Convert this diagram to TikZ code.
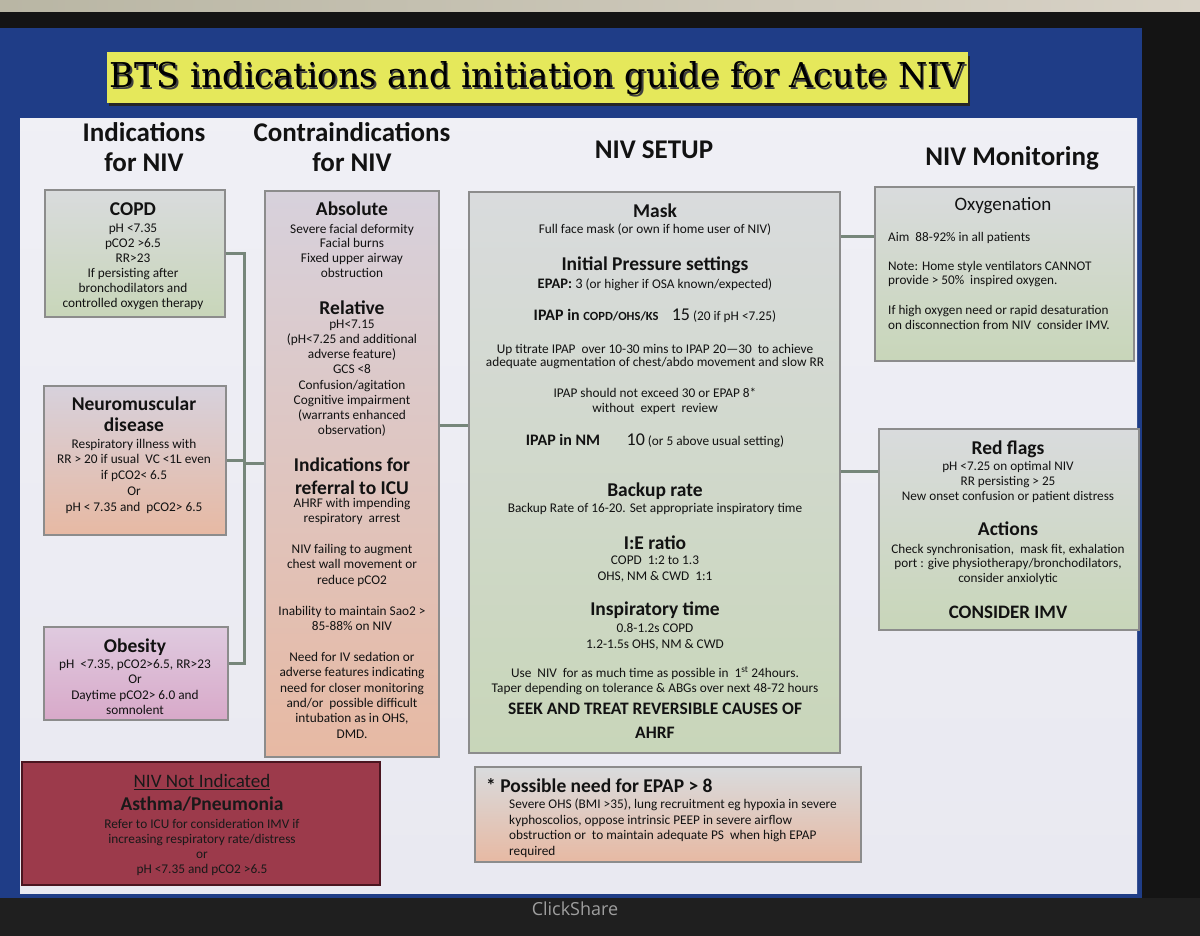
\documentclass[tikz,border=0pt]{standalone}
\usepackage{fontspec}
\usepackage{graphicx}
\setmainfont{Carlito}
\newfontfamily\titlefont{DejaVu Serif}
\newfontfamily\logofont{Open Sans}
\usetikzlibrary{calc}
\definecolor{slideblue}{HTML}{1F3D87}
\definecolor{panelc}{HTML}{E9E9F1}
\definecolor{ink}{HTML}{121212}
\definecolor{boxborder}{HTML}{8C8C8C}
\definecolor{conncol}{HTML}{76867A}
\definecolor{titleyellow}{HTML}{E5E85B}
\definecolor{greytop}{HTML}{D9DBDD}
\definecolor{greenbot}{HTML}{C8D6B9}
\definecolor{lavtop}{HTML}{D7D1DC}
\definecolor{peachbot}{HTML}{E7B9A3}
\definecolor{pinktop}{HTML}{DFCADF}
\definecolor{pinkbot}{HTML}{D8A9C9}
\definecolor{maroonc}{HTML}{9C3A4B}
\definecolor{maroonb}{HTML}{4A1520}
\definecolor{curtainA}{HTML}{B9B6A4}
\definecolor{curtainB}{HTML}{D8D2C6}
\newcommand\fBody{\fontsize{13.3}{15.3}\selectfont}
\newcommand\fHead{\fontsize{19.5}{22}\selectfont\bfseries}
\newcommand\fCol{\fontsize{27}{30}\selectfont\bfseries}
\begin{document}
\begin{tikzpicture}[x=1pt,y=-1pt,
  box/.style={draw=boxborder, line width=1.2pt, rectangle, inner sep=0pt},
  txt/.style={align=center, text=ink, inner sep=0pt, anchor=mid, yshift=-3pt},
  hd/.style={txt, yshift=-2pt},
  col/.style={txt, yshift=-3.5pt},
  ltxt/.style={align=left, text=ink, inner sep=0pt, anchor=mid west, yshift=-3pt},
  conn/.style={draw=conncol, line width=3pt}]
\useasboundingbox (0,0) rectangle (1200,936);
% background: room, monitor, slide
\fill[left color=curtainA, right color=curtainB] (0,0) rectangle (1200,14);
\fill[black!92] (0,12) rectangle (1200,30);
\fill[black!92] (1140,12) rectangle (1200,936);
\fill[slideblue] (0,28) rectangle (1142,898);
\fill[black!88] (0,898) rectangle (1200,936);
\fill[top color=panelc!70!white, bottom color=panelc] (20,119) rectangle (1137,893);
% title
\fill[black!85] (109,56) rectangle (970,106);
\node[fill=titleyellow, inner sep=0pt, minimum width=861pt, minimum height=51pt] (titlebar) at (537.5,77.5) {};
\node[anchor=base, inner sep=0pt, text=black!75] (titleshadow) at (539,89.5)
  {\resizebox{855pt}{26pt}{\titlefont BTS indications and initiation guide for Acute NIV}};
\node[anchor=base, inner sep=0pt, text=black] (title) at (537.5,88)
  {\resizebox{855pt}{26pt}{\titlefont BTS indications and initiation guide for Acute NIV}};
% column headers (multi-line nodes: mid anchor sits on the last line)
\node[col, font=\fCol] (hInd) at (144,163) {Indications\\for NIV};
\node[col, font=\fCol] (hContra) at (352,163) {Contraindications\\for NIV};
\node[col, font=\fCol] (hSetup) at (654,150) {NIV SETUP};
\node[col, font=\fCol] (hMon) at (1012,157) {NIV Monitoring};
% boxes
\node[box, top color=greytop, bottom color=greenbot, minimum width=180pt, minimum height=127pt] (copd) at (135,253.5) {};
\node[box, top color=lavtop, bottom color=peachbot, minimum width=182pt, minimum height=149pt] (nm) at (135,460.5) {};
\node[box, top color=pinktop, bottom color=pinkbot, minimum width=184pt, minimum height=93pt] (obes) at (136,673.5) {};
\node[box, draw=maroonb, line width=1.6pt, fill=maroonc, minimum width=358pt, minimum height=123pt] (notind) at (201,823.5) {};
\node[box, top color=lavtop, bottom color=peachbot, minimum width=174pt, minimum height=566pt] (contra) at (352,474) {};
\node[box, top color=greytop, bottom color=greenbot, minimum width=371pt, minimum height=561pt] (setup) at (654.5,472.5) {};
\node[box, top color=greytop, bottom color=peachbot, minimum width=386pt, minimum height=95pt] (epap) at (668,814.5) {};
\node[box, top color=greytop, bottom color=greenbot, minimum width=259pt, minimum height=174pt] (oxy) at (1004.5,274) {};
\node[box, top color=greytop, bottom color=greenbot, minimum width=260pt, minimum height=201pt] (red) at (1009,529.5) {};
% connectors
\coordinate (bus) at (244,463);
\coordinate (csY) at (455,425);
\coordinate (soY) at (860,237);
\coordinate (srY) at (860,471);
\draw[conn] (copd.east) -| (bus);
\draw[conn] (bus) |- ([yshift=10.5pt]obes.east);
\draw[conn] (nm.east) -- (nm.east -| bus);
\draw[conn] (bus) -- (contra.west |- bus);
\draw[conn] (contra.east |- csY) -- (setup.west |- csY);
\draw[conn] (setup.east |- soY) -- (oxy.west |- soY);
\draw[conn] (setup.east |- srY) -- (red.west |- srY);
% COPD
\node[hd, font=\fHead] (copdH) at (133,208) {COPD};
\node[txt, font={\fontsize{13.3}{15}\selectfont}] (copdB) at (133,302) {pH <7.35\\pCO2 >6.5\\RR>23\\If persisting after\\bronchodilators and\\controlled oxygen therapy};
% Neuromuscular
\node[hd, font={\fontsize{19.5}{21}\selectfont\bfseries}] (nmH) at (134,424) {Neuromuscular\\disease};
\node[txt, font={\fontsize{13.3}{15.8}\selectfont}] (nmB) at (134,506) {Respiratory illness with\\RR > 20 if usual\ \ VC <1L even\\if pCO2< 6.5\\Or\\pH <\ 7.35 and\ \ pCO2> 6.5};
% Obesity
\node[hd, font=\fHead] (obH) at (135,645) {Obesity};
\node[txt, font={\fontsize{13.3}{15.3}\selectfont}] (obB) at (135,709) {pH\ \ <7.35, pCO2>6.5, RR>23\\Or\\Daytime pCO2> 6.0 and\\somnolent};
% NIV not indicated
\node[hd, font={\fontsize{19}{22}\selectfont}, text=black!90] (niH) at (202,780) {\underline{NIV Not Indicated}};
\node[hd, font=\fHead, text=black!90] (niH2) at (202,803) {Asthma/Pneumonia};
\node[txt, font={\fontsize{13.3}{15}\selectfont}, text=black!90] (niB) at (202,868) {Refer to ICU for consideration IMV if\\increasing respiratory rate/distress\\or\\pH <7.35 and pCO2 >6.5};
% Contraindications
\node[hd, font=\fHead] (abH) at (352,208) {Absolute};
\node[txt, font={\fontsize{13.3}{14.7}\selectfont}] (abB) at (352,272) {Severe facial deformity\\Facial burns\\Fixed upper airway\\obstruction};
\node[hd, font=\fHead] (relH) at (352,307) {Relative};
\node[txt, font={\fontsize{13.3}{15.1}\selectfont}] (relB) at (352,429) {pH<7.15\\(pH<7.25 and additional\\adverse feature)\\GCS <8\\Confusion/agitation\\Cognitive impairment\\(warrants enhanced\\observation)};
\node[hd, font={\fontsize{19.5}{23}\selectfont\bfseries}] (icuH) at (352,487) {Indications for\\referral to ICU};
\node[txt, font={\fontsize{13.3}{15.4}\selectfont}] (icuB) at (352,733) {AHRF with impending\\respiratory\ \ arrest\\[15.4pt]NIV failing to augment\\chest wall movement or\\reduce pCO2\\[15.4pt]Inability to maintain Sao2 >\\85-88\% on NIV\\[15.4pt]Need for IV sedation or\\adverse features indicating\\need for closer monitoring\\and/or\ \ possible difficult\\intubation as in OHS,\\DMD.};
% NIV setup
\node[hd, font=\fHead] (maskH) at (655,210) {Mask};
\node[txt, font=\fBody] (maskB) at (655,228) {Full face mask (or own if home user of NIV)};
\node[hd, font=\fHead] (ipsH) at (655,263) {Initial Pressure settings};
\node[txt, font=\fBody] (epapL) at (655,283) {{\fontsize{14.5}{16}\selectfont\bfseries EPAP: }{\fontsize{14.5}{16}\selectfont 3} (or higher if OSA known/expected)};
\node[txt, font=\fBody] (ipapL) at (655,315) {{\fontsize{16}{17}\selectfont\bfseries IPAP in }{\fontsize{12.5}{14}\selectfont\bfseries COPD/OHS/KS}\quad{\fontsize{18}{18}\selectfont 15} (20 if pH <7.25)};
\node[txt, font={\fontsize{13.3}{13}\selectfont}] (titrB) at (655,361) {Up titrate IPAP\ \ over 10-30 mins to IPAP 20---30\ \ to achieve\\adequate augmentation of\ chest/abdo movement and slow RR};
\node[txt, font={\fontsize{13.3}{15}\selectfont}] (exceedB) at (655,407) {IPAP should not exceed 30 or EPAP 8*\\without\ \ expert\ \ review};
\node[txt, font=\fBody] (nmL) at (655,440) {{\fontsize{16}{17}\selectfont\bfseries IPAP in NM}\qquad{\fontsize{18}{18}\selectfont 10} (or 5 above usual setting)};
\node[hd, font=\fHead] (buH) at (655,489) {Backup rate};
\node[txt, font=\fBody] (buB) at (655,507) {Backup Rate of 16-20. Set appropriate inspiratory time};
\node[hd, font=\fHead] (ieH) at (655,542) {I:E ratio};
\node[txt, font={\fontsize{13.3}{16}\selectfont}] (ieB) at (655,575) {COPD\ \ 1:2 to 1.3\\OHS, NM \& CWD\ \ 1:1};
\node[hd, font=\fHead] (itH) at (655,608) {Inspiratory time};
\node[txt, font={\fontsize{13.3}{16}\selectfont}] (itB) at (655,643) {0.8-1.2s COPD\\1.2-1.5s OHS, NM \& CWD};
\node[txt, font={\fontsize{13.3}{14.5}\selectfont}] (useB) at (655,687) {Use\ \ NIV\ \ for as much time as possible in\ \ 1\textsuperscript{st} 24hours.\\Taper depending on tolerance \& ABGs over next 48-72 hours};
\node[hd, font={\fontsize{17.5}{24}\selectfont\bfseries}] (seekB) at (655,731) {SEEK AND TREAT REVERSIBLE CAUSES OF\\AHRF};
% EPAP > 8
\node[ltxt, yshift=-2pt, font=\fHead] (epH) at (486,785) {*\ Possible need for EPAP > 8};
\node[ltxt, font={\fontsize{13.3}{15.6}\selectfont}] (epB) at (509,850) {Severe OHS (BMI >35), lung recruitment eg hypoxia in severe\\kyphoscolios,\ oppose intrinsic PEEP in severe airflow\\obstruction or\ \ to maintain adequate PS\ \ when high EPAP\\required};
% Oxygenation
\node[hd, font={\fontsize{19}{22}\selectfont}] (oxH) at (1003,203) {Oxygenation};
\node[ltxt, font={\fontsize{13.2}{15}\selectfont}] (oxA) at (888,236) {Aim\ \ 88-92\% in all patients};
\node[ltxt, font={\fontsize{13.2}{13.5}\selectfont}] (oxN) at (888,279) {Note: Home style ventilators CANNOT\\provide > 50\%\ \ inspired oxygen.};
\node[ltxt, font={\fontsize{13.2}{15}\selectfont}] (oxI) at (888,324) {If high oxygen need or rapid desaturation\\on disconnection from NIV\ \ consider IMV.};
% Red flags
\node[hd, font=\fHead] (rfH) at (1008,447) {Red flags};
\node[txt, font={\fontsize{13.2}{15}\selectfont}] (rfB) at (1008,495) {pH <7.25 on optimal NIV\\RR persisting > 25\\New onset confusion or patient distress};
\node[hd, font=\fHead] (acH) at (1008,528) {Actions};
\node[txt, font={\fontsize{13.2}{14.5}\selectfont}] (acB) at (1008,577) {Check synchronisation,\ \ mask fit, exhalation\\port : give physiotherapy/bronchodilators,\\consider anxiolytic};
\node[hd, font={\fontsize{19}{22}\selectfont\bfseries}] (imv) at (1008,611) {CONSIDER IMV};
% monitor logo
\node[anchor=mid, inner sep=0pt, text=black!38, font={\logofont\fontsize{18}{20}\selectfont}] (clickshare) at (575,913) {ClickShare};
\end{tikzpicture}
\end{document}
